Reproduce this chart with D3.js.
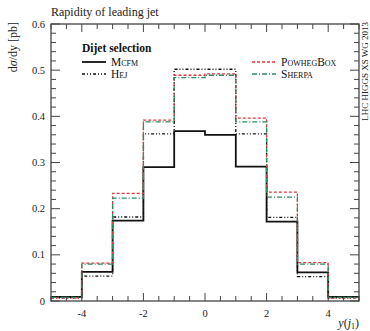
<!DOCTYPE html>
<html>
<head>
<meta charset="utf-8">
<script src="https://cdn.jsdelivr.net/npm/d3@7"></script>
<style>
  body { margin: 0; background: #fff; }
  svg { display: block; font-family: "Liberation Serif", "DejaVu Serif", serif; }
</style>
</head>
<body>
<div id="chart"></div>
<script>
// bin edges of y(j1) and the four predictions (one value per bin)
const binEdges = [-5, -4, -3, -2, -1, 0, 1, 2, 3, 4, 5];
const mcfm      = [0.009, 0.063, 0.174, 0.290, 0.368, 0.360, 0.291, 0.172, 0.062, 0.009];
const hej       = [0.007, 0.054, 0.182, 0.362, 0.502, 0.502, 0.362, 0.181, 0.053, 0.007];
const powhegBox = [0.007, 0.082, 0.233, 0.392, 0.489, 0.492, 0.396, 0.236, 0.083, 0.007];
const sherpa    = [0.008, 0.080, 0.223, 0.388, 0.484, 0.489, 0.388, 0.225, 0.080, 0.008];

const xTickLabels = [-4, -2, 0, 2, 4];
const yTickLabels = [0, 0.1, 0.2, 0.3, 0.4, 0.5, 0.6];

const series = [
    {name: "Mcfm", values: mcfm, color: "#111", dash: null, width: 1.8},
    {name: "Hej", values: hej, color: "#111", dash: "3,2,1,2,1,2", width: 1.3},
    {name: "PowhegBox", values: powhegBox, color: "#e0393e", dash: "3,2", width: 1.3},
    {name: "Sherpa", values: sherpa, color: "#2e8b62", dash: "5,2,1,2", width: 1.3}
];

const W = 370, H = 331;
const margin = {top: 24, right: 11, bottom: 30, left: 51};
const width = W - margin.left - margin.right;
const height = H - margin.top - margin.bottom;

const svg = d3.select("#chart").append("svg")
    .attr("width", W)
    .attr("height", H);

const g = svg.append("g")
    .attr("transform", `translate(${margin.left},${margin.top})`);

const x = d3.scaleLinear().domain([-5, 5]).range([0, width]);
const y = d3.scaleLinear().domain([0, 0.6]).range([height, 0]);

// histograms
const step = d3.line()
    .x(d => x(d[0]))
    .y(d => y(d[1]))
    .curve(d3.curveStepAfter);

series.forEach(s => {
    const pts = binEdges.map((e, i) => [e, s.values[Math.min(i, s.values.length - 1)]]);
    g.append("path")
        .datum(pts)
        .attr("fill", "none")
        .attr("stroke", s.color)
        .attr("stroke-width", s.width)
        .attr("stroke-dasharray", s.dash)
        .attr("d", step);
});

// ticks, all pointing inwards on the four sides
const tickColor = "#444";
const xMinor = d3.range(-5, 5.01, 0.5);
const yMinor = d3.range(0, 0.601, 0.02);

function isMajorX(v) { return Math.abs(v - Math.round(v)) < 1e-6 && Math.round(v) % 2 === 0; }
function isMajorY(v) { return Math.abs(v * 10 - Math.round(v * 10)) < 1e-6; }

xMinor.forEach(v => {
    const len = isMajorX(v) ? 8 : 5;
    g.append("line").attr("x1", x(v)).attr("x2", x(v))
        .attr("y1", height).attr("y2", height - len)
        .attr("stroke", tickColor).attr("stroke-width", 1);
    g.append("line").attr("x1", x(v)).attr("x2", x(v))
        .attr("y1", 0).attr("y2", len)
        .attr("stroke", tickColor).attr("stroke-width", 1);
});

yMinor.forEach(v => {
    const len = isMajorY(v) ? 9 : 5;
    g.append("line").attr("x1", 0).attr("x2", len)
        .attr("y1", y(v)).attr("y2", y(v))
        .attr("stroke", tickColor).attr("stroke-width", 1);
    g.append("line").attr("x1", width).attr("x2", width - len)
        .attr("y1", y(v)).attr("y2", y(v))
        .attr("stroke", tickColor).attr("stroke-width", 1);
});

// frame
g.append("rect")
    .attr("width", width)
    .attr("height", height)
    .attr("fill", "none")
    .attr("stroke", tickColor)
    .attr("stroke-width", 1.3);

// tick labels
g.selectAll(".xlab").data(xTickLabels).join("text")
    .attr("x", d => x(d))
    .attr("y", height + 16)
    .attr("text-anchor", "middle")
    .style("font-size", "10.5px")
    .attr("fill", "#222")
    .text(d => d < 0 ? "-" + Math.abs(d) : d);

g.selectAll(".ylab").data(yTickLabels).join("text")
    .attr("x", -6)
    .attr("y", d => y(d) + 3.5)
    .attr("text-anchor", "end")
    .style("font-size", "10.5px")
    .attr("fill", "#222")
    .text(d => d === 0 ? "0" : d.toFixed(1));

// titles
svg.append("text")
    .attr("x", 51)
    .attr("y", 16)
    .style("font-size", "12px")
    .attr("fill", "#222")
    .text("Rapidity of leading jet");

const yl = svg.append("text")
    .attr("transform", "translate(17,22) rotate(-90)")
    .attr("text-anchor", "end")
    .style("font-size", "12px")
    .attr("fill", "#222");
yl.append("tspan").text("d");
yl.append("tspan").style("font-style", "italic").text("σ");
yl.append("tspan").text("/dy [pb]");

const xl = svg.append("text")
    .attr("x", 359)
    .attr("y", 327)
    .attr("text-anchor", "end")
    .style("font-size", "12px")
    .attr("fill", "#222");
xl.append("tspan").style("font-style", "italic").text("y");
xl.append("tspan").text("(");
xl.append("tspan").style("font-style", "italic").text("j");
xl.append("tspan").attr("dy", 2).style("font-size", "8px").text("1");
xl.append("tspan").attr("dy", -2).text(")");

svg.append("text")
    .attr("transform", "translate(368,22) rotate(-90)")
    .attr("text-anchor", "end")
    .style("font-size", "9px")
    .attr("fill", "#222")
    .text("LHC HIGGS XS WG 2013");

// legend
svg.append("text")
    .attr("x", 82)
    .attr("y", 52)
    .style("font-size", "11.5px")
    .style("font-weight", "bold")
    .attr("fill", "#111")
    .text("Dijet selection");

const legendPos = [
    {x: 82, y: 62}, {x: 82, y: 74}, {x: 252, y: 62}, {x: 252, y: 74}
];

series.forEach((s, i) => {
    const p = legendPos[i];
    svg.append("line")
        .attr("x1", p.x).attr("x2", p.x + 24)
        .attr("y1", p.y).attr("y2", p.y)
        .attr("stroke", s.color)
        .attr("stroke-width", s.width)
        .attr("stroke-dasharray", s.dash);
    svg.append("text")
        .attr("x", p.x + 29)
        .attr("y", p.y + 4)
        .style("font-size", "11.5px")
        .style("font-variant", "small-caps")
        .attr("fill", "#111")
        .text(s.name);
});
</script>
</body>
</html>
